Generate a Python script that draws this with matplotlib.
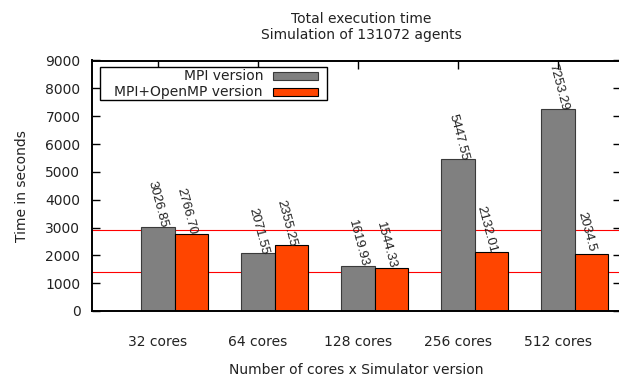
import matplotlib
matplotlib.use("Agg")
import matplotlib.pyplot as plt
from matplotlib.patches import Rectangle
import numpy as np

cores = ["32 cores", "64 cores", "128 cores", "256 cores", "512 cores"]
mpi = [3026.85, 2071.55, 1619.93, 5447.55, 7253.29]
hybrid = [2766.70, 2355.25, 1544.33, 2132.01, 2034.5]
mpi_labels = ["3026.85", "2071.55", "1619.93", "5447.55", "7253.29"]
hybrid_labels = ["2766.70", "2355.25", "1544.33", "2132.01", "2034.5"]
series_names = ["MPI version", "MPI+OpenMP version"]
ref_lines = [2900, 1400]

W, H = 619, 376
gray, orange = "#808080", "#ff4500"
edges = ["#3a3a3a", "black"]


def fx(px):
    return px / W


def fy(py):
    return 1 - py / H


fig = plt.figure(figsize=(W / 100, H / 100), dpi=100)
ax = fig.add_axes([fx(91.5), fy(311), (621 - 91.5) / W, (311 - 60.5) / H])

x = np.arange(len(cores))
bw = 0.333

for y in ref_lines:
    ax.axhline(y, color="red", linewidth=0.8, zorder=1)

ax.bar(x, mpi, width=bw, color=gray, edgecolor=edges[0],
       linewidth=0.8, zorder=2)
ax.bar(x + bw, hybrid, width=bw, color=orange, edgecolor=edges[1],
       linewidth=0.8, zorder=2)

for offs, vals, labs in [(0, mpi, mpi_labels), (0.28, hybrid, hybrid_labels)]:
    for xi, v, s in zip(x, vals, labs):
        ax.annotate(s, (xi + offs, v), xytext=(0, 16), textcoords="offset points",
                    rotation=-75, rotation_mode="anchor", ha="center",
                    va="center", fontsize=9.5, family="Liberation Sans",
                    color="#222222", annotation_clip=False)

ax.set_xlim(-0.665, 4.63)
ax.set_ylim(0, 9000)
ax.set_yticks(range(0, 9001, 1000))
ax.set_xticks(x)
ax.set_xticklabels(cores)

ax.tick_params(axis="both", direction="in", labelsize=10, colors="black",
               labelcolor="#222222", width=1)
ax.tick_params(axis="y", length=6, pad=8, right=True)
ax.tick_params(axis="x", length=6, pad=17, top=True, bottom=False)
for sp in ax.spines.values():
    sp.set_linewidth(1.4)
    sp.set_zorder(3)

ax.set_ylabel("Time in seconds", fontsize=10, labelpad=12, color="#222222")
ax.set_xlabel("Number of cores x Simulator version", fontsize=10,
              labelpad=10.5, color="#222222")
fig.text(fx(361), fy(27), "Total execution time\nSimulation of 131072 agents",
         ha="center", va="center", fontsize=10, color="#222222",
         linespacing=1.2)

# legend drawn by hand, gnuplot style: text right-aligned, swatch on the right
fig.add_artist(Rectangle((fx(100), fy(100)), fx(227), 33 / H,
                         transform=fig.transFigure, facecolor="white",
                         edgecolor="black", linewidth=1.0, zorder=5))
for name, col, ec, yc in zip(series_names, [gray, orange], edges, [76, 92]):
    fig.text(fx(263), fy(yc), name, ha="right", va="center", fontsize=10,
             color="#222222", zorder=6)
    fig.add_artist(Rectangle((fx(273), fy(yc + 4)), fx(45), 8 / H,
                             transform=fig.transFigure, facecolor=col,
                             edgecolor=ec, linewidth=0.8, zorder=6))

fig.savefig("out.png", dpi=100)
